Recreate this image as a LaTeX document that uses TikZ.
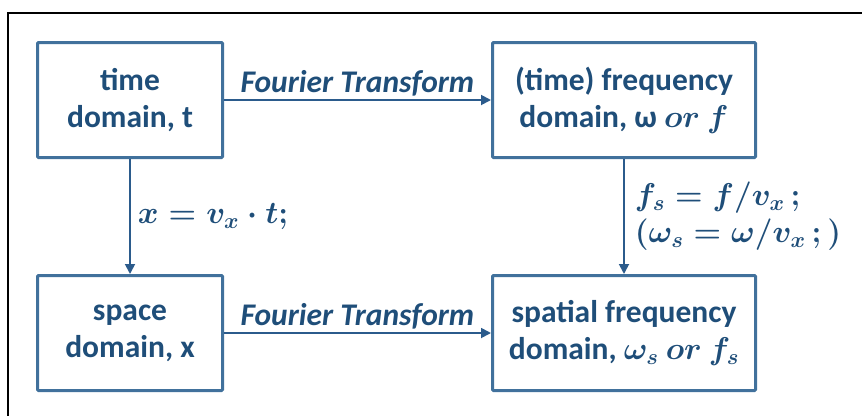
\RequirePackage{fix-cm}
\documentclass[tikz,border=0pt]{standalone}
\usepackage{amsmath}
\usepackage{fontspec}
\setmainfont{Carlito}
\usetikzlibrary{arrows.meta}
\definecolor{boxblue}{HTML}{41719C}
\definecolor{textblue}{HTML}{1F4E79}
\definecolor{arrowblue}{HTML}{2B5B8C}

\begin{document}
\begin{tikzpicture}[x=1pt,y=-1pt,
  domainbox/.style={draw=boxblue,line width=3pt,rounded corners=1pt,text=textblue,
    align=center,inner sep=0pt,font=\fontsize{31.5}{37}\selectfont\bfseries},
  ftarrow/.style={draw=arrowblue,line width=1.8pt,-{Triangle[length=10pt,width=10pt]}},
  lbl/.style={text=textblue,font=\fontsize{31.5}{37}\selectfont\bfseries}]
\useasboundingbox (0,0) rectangle (862,416);
\draw[line width=2pt] (862,13) -- (8,13) -- (8,416);

\node[domainbox,minimum width=185pt,minimum height=115pt] (time) at (130,100)
  {time\\domain, t};
\node[domainbox,minimum width=263pt,minimum height=115pt] (freq) at (624,100)
  {(time) frequency\\domain, ω $\boldsymbol{or}$ $\boldsymbol{f}$};
\node[domainbox,minimum width=185pt,minimum height=115pt] (space) at (130,333)
  {space\\domain, x};
\node[domainbox,minimum width=263pt,minimum height=115pt] (spatial) at (624,333)
  {spatial frequency\\domain, $\boldsymbol{\omega_s}$ $\boldsymbol{or}$ $\boldsymbol{f_s}$};

\draw[ftarrow] (time) -- node[lbl,above,inner sep=3pt] {\textit{Fourier Transform}} (freq);
\draw[ftarrow] (space) -- node[lbl,above,inner sep=3pt] {\textit{Fourier Transform}} (spatial);
\draw[ftarrow] (time) -- node[lbl,right,inner sep=7pt] {$\boldsymbol{x=v_x\cdot t;}$} (space);
\draw[ftarrow] (freq) -- node[lbl,right,inner sep=10pt,align=left]
  {$\boldsymbol{f_s=f/v_x\,;}$\\$\boldsymbol{(\omega_s=\omega/v_x\,;)}$} (spatial);
\end{tikzpicture}
\end{document}
